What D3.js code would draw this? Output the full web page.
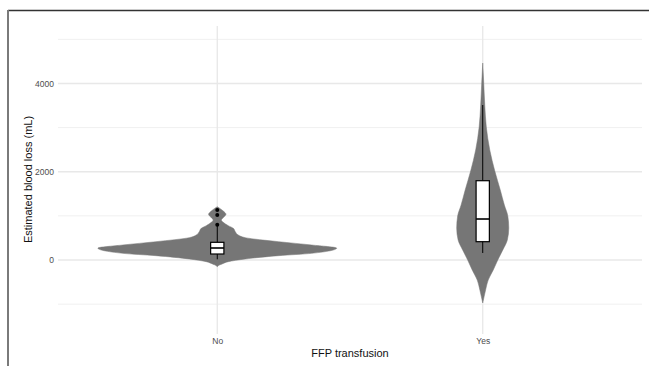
<!DOCTYPE html>
<html>
<head>
<meta charset="utf-8">
<script src="https://cdn.jsdelivr.net/npm/d3@7"></script>
<style>
  html, body { margin: 0; padding: 0; background: #fff; }
  svg { display: block; }
  text { font-family: "Liberation Sans", Arial, Helvetica, sans-serif; }
</style>
</head>
<body>
<svg id="chart" width="649" height="366"></svg>
<script>
// ---------- data ----------
const categories = ["No", "Yes"];
const yMajorTicks = [0, 2000, 4000];
const yMinorTicks = [-1000, 1000, 3000, 5000];
const xTitle = "FFP transfusion";
const yTitle = "Estimated blood loss (mL)";

// violin density profiles: [blood loss value, relative density]
const densityNo = [
  [-155, 0], [-129, 0.008], [-90, 0.04], [-38, 0.092], [23, 0.235], [98, 0.513],
  [151, 0.79], [270, 1.0], [340, 0.79], [415, 0.513], [506, 0.235], [566, 0.176],
  [640, 0.151], [718, 0.134], [778, 0.092], [853, 0.05], [906, 0.034], [960, 0.05],
  [1036, 0.073], [1110, 0.05], [1208, 0]
];
const densityYes = [
  [-974, 0], [-680, 0.024], [-453, 0.046], [-227, 0.088], [0, 0.126], [227, 0.168],
  [453, 0.206], [725, 0.218], [997, 0.21], [1246, 0.181], [1586, 0.147], [2017, 0.101],
  [2493, 0.059], [3014, 0.03], [3512, 0.017], [4033, 0.008], [4464, 0]
];

// box-plot statistics
const boxLow    = [16, 159];
const boxQ1     = [136, 415];
const boxMedian = [272, 929];
const boxQ3     = [401, 1797];
const boxHigh   = [770, 3512];
const outliersNo  = [800, 1020, 1133];
const outliersYes = [];

// ---------- layout ----------
const svg = d3.select("#chart");
const panel = { left: 58, right: 642, top: 26, bottom: 334 };

const x = d3.scalePoint().domain(categories).range([panel.left, panel.right]).padding(0.6);
const y = d3.scaleLinear().domain([-1677, 5303]).range([panel.bottom, panel.top]);
const step = x.step();
const w = d3.scaleLinear().domain([0, 1]).range([0, 0.45 * step]);
const boxHalf = 0.025 * step;

// frame
svg.append("line").attr("x1", 8).attr("x2", 649).attr("y1", 10.5).attr("y2", 10.5)
  .attr("stroke", "#333").attr("stroke-width", 1.6);
svg.append("line").attr("x1", 8).attr("x2", 8).attr("y1", 10).attr("y2", 366)
  .attr("stroke", "#7a7a7a").attr("stroke-width", 2);

// grid
const g = svg.append("g");
g.selectAll(".minor").data(yMinorTicks).enter().append("line")
  .attr("x1", panel.left).attr("x2", panel.right)
  .attr("y1", d => y(d)).attr("y2", d => y(d))
  .attr("stroke", "#f0f0f0").attr("stroke-width", 1);
g.selectAll(".major").data(yMajorTicks).enter().append("line")
  .attr("x1", panel.left).attr("x2", panel.right)
  .attr("y1", d => y(d)).attr("y2", d => y(d))
  .attr("stroke", "#e8e8e8").attr("stroke-width", 1.3);
g.selectAll(".vmajor").data(categories).enter().append("line")
  .attr("x1", d => x(d)).attr("x2", d => x(d))
  .attr("y1", panel.top).attr("y2", panel.bottom)
  .attr("stroke", "#e8e8e8").attr("stroke-width", 1.3);

// y tick labels
const yAxis = d3.axisLeft(y).tickValues(yMajorTicks).tickSize(0).tickPadding(4).tickFormat(d3.format("d"));
const ya = svg.append("g").attr("transform", `translate(${panel.left},0)`).call(yAxis);
ya.select(".domain").remove();
ya.selectAll("text").attr("font-size", 8.5).attr("fill", "#4d4d4d")
  .attr("font-family", "Liberation Sans, Arial, sans-serif");

// x tick labels
const xAxis = d3.axisBottom(x).tickSize(0).tickPadding(0);
const xa = svg.append("g").attr("transform", `translate(0,${panel.bottom})`).call(xAxis);
xa.select(".domain").remove();
xa.selectAll("text").attr("font-size", 8.5).attr("fill", "#4d4d4d")
  .attr("dy", null).attr("y", 10)
  .attr("font-family", "Liberation Sans, Arial, sans-serif");

// titles
svg.append("text").attr("x", (panel.left + panel.right) / 2).attr("y", 357)
  .attr("text-anchor", "middle").attr("font-size", 11).attr("fill", "#111").text(xTitle);
svg.append("text").attr("transform", "translate(31.5,179.5) rotate(-90)")
  .attr("text-anchor", "middle").attr("font-size", 11).attr("fill", "#111").text(yTitle);

// violins
const densities = [densityNo, densityYes];
categories.forEach((cat, i) => {
  const cx = x(cat);
  const area = d3.area()
    .y(d => y(d[0]))
    .x0(d => cx - w(d[1]))
    .x1(d => cx + w(d[1]))
    .curve(d3.curveMonotoneY);
  svg.append("path").datum(densities[i]).attr("d", area)
    .attr("fill", "#767676").attr("stroke", "#767676").attr("stroke-width", 0.5);
});

// box plots
const bx = svg.append("g");
categories.forEach((cat, i) => {
  const cx = x(cat);
  bx.append("line").attr("x1", cx).attr("x2", cx)
    .attr("y1", y(boxHigh[i])).attr("y2", y(boxLow[i]))
    .attr("stroke", "#000").attr("stroke-width", 1);
  bx.append("rect").attr("x", cx - boxHalf).attr("width", 2 * boxHalf)
    .attr("y", y(boxQ3[i])).attr("height", y(boxQ1[i]) - y(boxQ3[i]))
    .attr("fill", "#fff").attr("stroke", "#000").attr("stroke-width", 1.2);
  bx.append("line").attr("x1", cx - boxHalf).attr("x2", cx + boxHalf)
    .attr("y1", y(boxMedian[i])).attr("y2", y(boxMedian[i]))
    .attr("stroke", "#000").attr("stroke-width", 1.6);
});
const outliers = [outliersNo, outliersYes];
categories.forEach((cat, i) => {
  bx.selectAll(null).data(outliers[i]).enter().append("circle")
    .attr("cx", x(cat)).attr("cy", d => y(d)).attr("r", 2)
    .attr("fill", "#000");
});
</script>
</body>
</html>
